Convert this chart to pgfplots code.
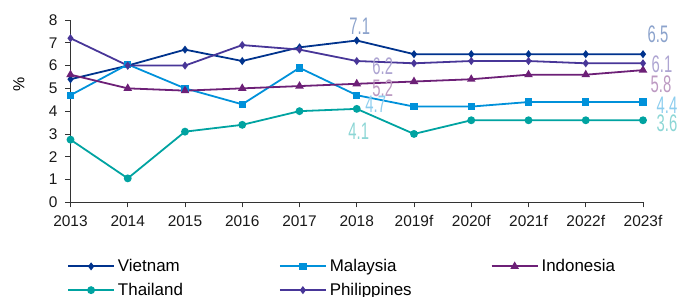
\documentclass[border=0pt]{standalone}
\usepackage{pgfplots}
\pgfplotsset{compat=1.18}
\usepackage{fontspec}
\setmainfont{Liberation Sans}
\newfontfamily\labfont{Liberation Sans}[FakeStretch=0.62]
\definecolor{cVN}{HTML}{00338D}
\definecolor{cMY}{HTML}{0091DA}
\definecolor{cID}{HTML}{6D2077}
\definecolor{cTH}{HTML}{00A3A1}
\definecolor{cPH}{HTML}{483698}
\definecolor{lVN}{HTML}{8CA3CC}
\definecolor{lMY}{HTML}{8CCDEE}
\definecolor{lID}{HTML}{BD9AC2}
\definecolor{lTH}{HTML}{8CD6D5}
\definecolor{lPH}{HTML}{AEA5D2}
\begin{document}
\begin{tikzpicture}
\path[use as bounding box] (0,0) rectangle (684bp,297bp);
\begin{axis}[
  at={(70.5bp,94.7bp)}, anchor=south west,
  scale only axis, width=572.5bp, height=182.3bp,
  xmin=0, xmax=10, ymin=0, ymax=8,
  axis x line*=bottom, axis y line*=left,
  xtick={0,...,10},
  xticklabels={2013,2014,2015,2016,2017,2018,2019f,2020f,2021f,2022f,2023f},
  ytick={0,...,8},
  tick align=outside, major tick length=5bp,
  tick style={black!80, line width=0.7pt},
  axis line style={black!80, line width=0.7pt},
  ticklabel style={font=\fontsize{15.5}{18}\selectfont, text=black!90},
  xticklabel style={yshift=-5bp},
  yticklabel style={xshift=-4.5bp},
  /pgf/number format/assume math mode=true,
  ylabel={\%},
  ylabel style={at={(axis description cs:-0.09,0.646)}, anchor=center, font=\fontsize{16}{18}\selectfont},
  clip=false,
  every axis plot/.append style={line width=1.8pt},
  legend columns=3,
  legend style={draw=none, fill=none, at={(0,0)}, anchor=north west,
    xshift=-3.5bp, yshift=-57bp, inner sep=0pt,
    font=\fontsize{17}{20}\selectfont,
    nodes={inner sep=0pt},
    cells={anchor=west},
    /tikz/every odd column/.append style={column sep=3bp},
    row sep=10bp},
  legend image code/.code={\draw[mark repeat=2,mark phase=2,#1] plot coordinates {(0bp,0bp)(23bp,0bp)(46bp,0bp)};},
]
\addplot[color=cVN, mark=diamond*, mark size=2.6bp] coordinates {
(0,5.4)(1,6.0)(2,6.7)(3,6.2)(4,6.8)(5,7.1)(6,6.5)(7,6.5)(8,6.5)(9,6.5)(10,6.5)};
\addlegendentry{\makebox[161bp][l]{Vietnam}}
\addplot[color=cMY, mark=square*, mark size=2.8bp] coordinates {
(0,4.7)(1,6.05)(2,5.0)(3,4.3)(4,5.9)(5,4.7)(6,4.2)(7,4.2)(8,4.4)(9,4.4)(10,4.4)};
\addlegendentry{\makebox[161bp][l]{Malaysia}}
\addplot[color=cID, mark=triangle*, mark size=3.2bp] coordinates {
(0,5.6)(1,5.0)(2,4.9)(3,5.0)(4,5.1)(5,5.2)(6,5.3)(7,5.4)(8,5.6)(9,5.6)(10,5.8)};
\addlegendentry{\makebox[161bp][l]{Indonesia}}
\addplot[color=cTH, mark=*, mark size=3bp] coordinates {
(0,2.75)(1,1.05)(2,3.1)(3,3.4)(4,4.0)(5,4.1)(6,3.0)(7,3.6)(8,3.6)(9,3.6)(10,3.6)};
\addlegendentry{\makebox[161bp][l]{Thailand}}
\addplot[color=cPH, mark=diamond*, mark size=2.6bp] coordinates {
(0,7.2)(1,6.0)(2,6.0)(3,6.9)(4,6.7)(5,6.2)(6,6.1)(7,6.2)(8,6.2)(9,6.1)(10,6.1)};
\addlegendentry{\makebox[161bp][l]{Philippines}}
\tikzset{lab/.style={font=\labfont\fontsize{24}{24}\selectfont, inner sep=0pt, anchor=center}}
\node[lab, text=lVN, xshift=3bp, yshift=14bp] at (axis cs:5,7.1) {7.1};
\node[lab, text=lPH, xshift=26bp, yshift=-5.5bp] at (axis cs:5,6.2) {6.2};
\node[lab, text=lID, xshift=26bp, yshift=-4.7bp] at (axis cs:5,5.2) {5.2};
\node[lab, text=lMY, xshift=19bp, yshift=-9bp] at (axis cs:5,4.7) {4.7};
\node[lab, text=lTH, xshift=2bp, yshift=-22.5bp] at (axis cs:5,4.1) {4.1};
\node[lab, text=lVN, xshift=15bp, yshift=20bp] at (axis cs:10,6.5) {6.5};
\node[lab, text=lPH, xshift=19bp, yshift=-1bp] at (axis cs:10,6.1) {6.1};
\node[lab, text=lID, xshift=18bp, yshift=-14.5bp] at (axis cs:10,5.8) {5.8};
\node[lab, text=lMY, xshift=24bp, yshift=-3bp] at (axis cs:10,4.4) {4.4};
\node[lab, text=lTH, xshift=24bp, yshift=-3.5bp] at (axis cs:10,3.6) {3.6};
\end{axis}
\end{tikzpicture}
\end{document}
